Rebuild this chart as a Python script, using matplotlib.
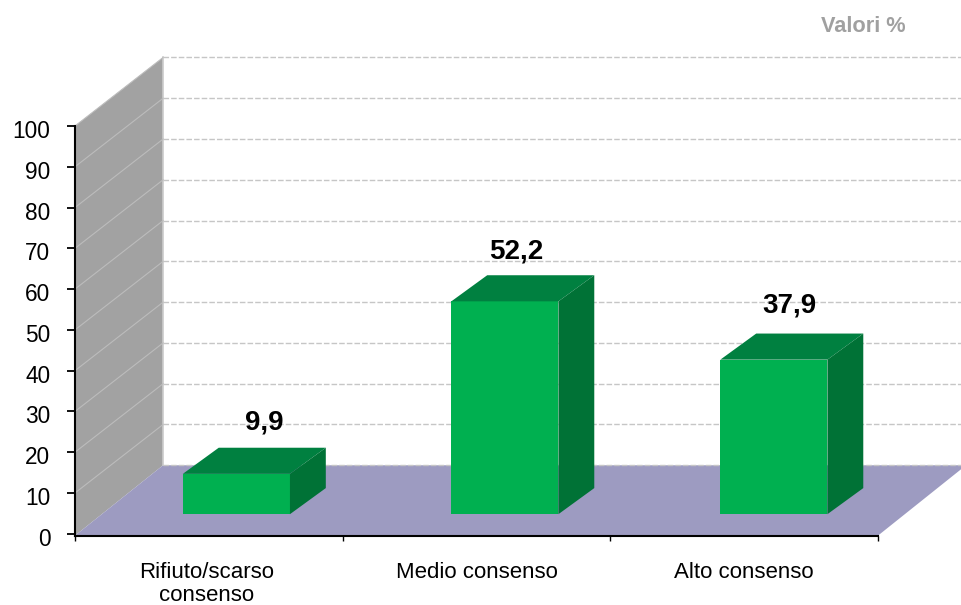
import matplotlib
matplotlib.use('Agg')
import matplotlib.pyplot as plt
from matplotlib.patches import Polygon
from matplotlib.transforms import ScaledTranslation

categories = ['Rifiuto/scarso\nconsenso', 'Medio consenso', 'Alto consenso']
values = [9.9, 52.2, 37.9]
value_labels = ['9,9', '52,2', '37,9']
y_ticks = [0, 10, 20, 30, 40, 50, 60, 70, 80, 90, 100]

plt.rcParams['font.family'] = ['Liberation Sans', 'DejaVu Sans']

W, H = 962, 605
fig = plt.figure(figsize=(W / 100, H / 100), dpi=100)
fig.patch.set_facecolor('white')

# axes box in pixels, the 3d look is faked with polygons
left, right, top, bottom = 75, 878, 126, 535.6
ax = fig.add_axes([left / W, 1 - bottom / H, (right - left) / W, (bottom - top) / H])
ax.set_xlim(0, 3)
ax.set_ylim(-0.45, 100)
ax.patch.set_visible(False)

# depth of wall and bars, in data units
wall_dx, wall_dy = 0.329, 16.8
bar_dx, bar_dy = 0.134, 6.4
bar_base = 4.8
bar_w = 0.4
bar_pos = [0.603, 1.606, 2.611]
label_shift = [7, -4.5, -1.8]  # points, labels are not centred on the bars
label_rise = [8.7, 8, 10.5]

# left wall
ax.add_patch(Polygon([(0, -0.45), (wall_dx, wall_dy), (wall_dx, 100 + wall_dy), (0, 100)],
                     closed=True, fc='#A2A2A2', ec='none', clip_on=False, zorder=1))
ax.plot([wall_dx, wall_dx], [wall_dy, 100 + wall_dy], color='#CCCCCC', lw=1.2, clip_on=False, zorder=1.5)

# floor
ax.add_patch(Polygon([(0, -0.45), (3, -0.45), (3 + wall_dx, wall_dy), (wall_dx, wall_dy)],
                     closed=True, fc='#9D9BC1', ec='none', clip_on=False, zorder=1))

# grid on wall and back
for v in y_ticks:
    if v > 0:
        ax.plot([0, wall_dx], [v, v + wall_dy], color='#BCBCBC', lw=0.8, clip_on=False, zorder=1.6)
    ax.plot([wall_dx, 3 + wall_dx], [v + wall_dy, v + wall_dy], color='#C6C6C6', lw=1.0,
            ls=(0, (4, 1.5)), clip_on=False, zorder=1.6)

# bars
ax.bar(bar_pos, values, width=bar_w, bottom=bar_base, align='center', color='#00B050', zorder=3)
for x, v, lab, sh, rise in zip(bar_pos, values, value_labels, label_shift, label_rise):
    x0 = x - bar_w / 2
    x1 = x + bar_w / 2
    y1 = bar_base + v
    ax.add_patch(Polygon([(x0, y1), (x1, y1), (x1 + bar_dx, y1 + bar_dy), (x0 + bar_dx, y1 + bar_dy)],
                         closed=True, fc='#008040', ec='none', zorder=3))
    ax.add_patch(Polygon([(x1, bar_base), (x1 + bar_dx, bar_base + bar_dy), (x1 + bar_dx, y1 + bar_dy), (x1, y1)],
                         closed=True, fc='#007236', ec='none', zorder=3))
    ax.annotate(lab, (x + bar_dx / 2, y1 + bar_dy), xytext=(sh, rise), textcoords='offset points',
                ha='center', va='bottom', fontsize=20, fontweight='bold', color='black', zorder=5)

# axes
for s in ['top', 'right']:
    ax.spines[s].set_visible(False)
for s in ['left', 'bottom']:
    ax.spines[s].set_linewidth(1.5)
    ax.spines[s].set_zorder(4)

ax.set_yticks(y_ticks)
ax.tick_params(axis='y', length=5.8, width=1.3, pad=12, labelsize=16.3)
offset = ScaledTranslation(0, -3 / 100, fig.dpi_scale_trans)
for t in ax.get_yticklabels():
    t.set_transform(t.get_transform() + offset)

ax.set_xticks([0, 1, 2, 3])
ax.set_xticklabels([])
ax.tick_params(axis='x', which='major', length=3.5, width=1.0)
ax.set_xticks([0.493, 1.5, 2.5], minor=True)
ax.set_xticklabels(categories, minor=True, fontsize=16, linespacing=1.1)
ax.tick_params(axis='x', which='minor', length=0, pad=19)

fig.text(863 / W, 1 - 26.5 / H, 'Valori %', ha='center', va='center', fontsize=15.7, fontweight='bold', color='#A0A0A0')

fig.savefig('out.png', dpi=100, facecolor=fig.get_facecolor())
